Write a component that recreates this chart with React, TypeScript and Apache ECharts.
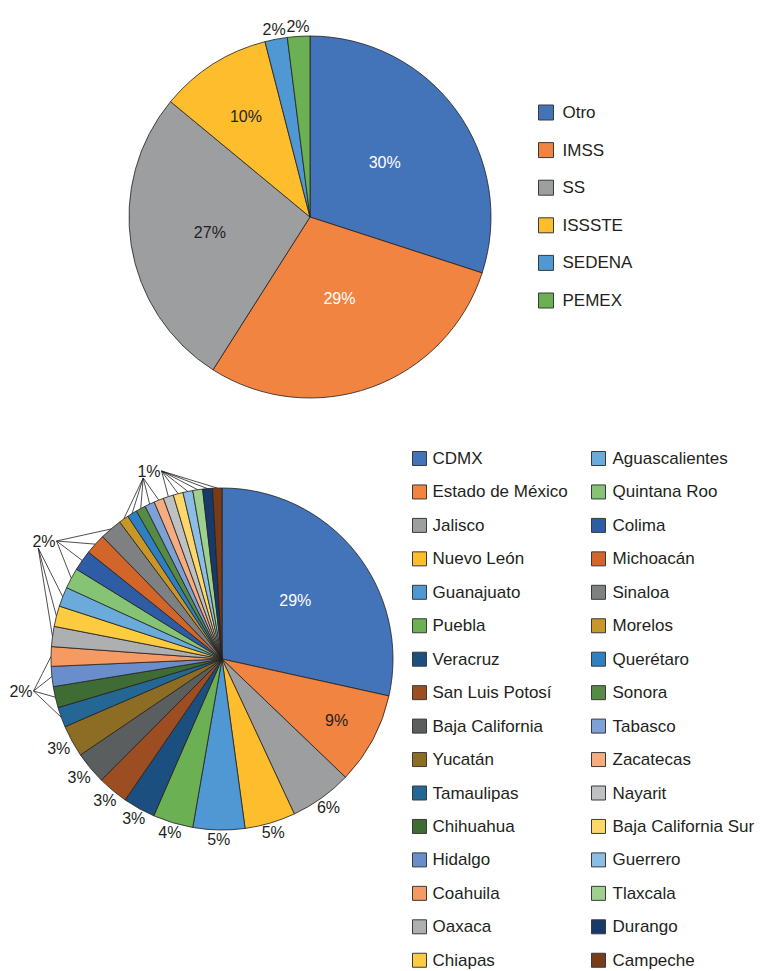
import React, { useEffect, useRef } from 'react';
import * as echarts from 'echarts';

// ---------- Data ----------
const institutionNames = ['Otro', 'IMSS', 'SS', 'ISSSTE', 'SEDENA', 'PEMEX'];
const institutionValues = [30, 29, 27, 10, 2, 2];

const stateNames = [
  'CDMX', 'Estado de México', 'Jalisco', 'Nuevo León', 'Guanajuato', 'Puebla',
  'Veracruz', 'San Luis Potosí', 'Baja California', 'Yucatán', 'Tamaulipas',
  'Chihuahua', 'Hidalgo', 'Coahuila', 'Oaxaca', 'Chiapas', 'Aguascalientes',
  'Quintana Roo', 'Colima', 'Michoacán', 'Sinaloa', 'Morelos', 'Querétaro',
  'Sonora', 'Tabasco', 'Zacatecas', 'Nayarit', 'Baja California Sur',
  'Guerrero', 'Tlaxcala', 'Durango', 'Campeche',
];
const stateValues = [
  28.5, 8.7, 5.9, 4.8, 4.9, 3.8,
  3.05, 2.9, 3.05, 3.0, 1.9,
  2.0, 1.9, 1.85, 1.9, 1.95, 1.85,
  1.95, 1.95, 1.95, 2.1, 0.93, 0.93,
  0.93, 0.93, 0.93, 0.97, 0.93,
  0.93, 0.93, 0.93, 0.88,
];

// ---------- Styles ----------
const institutionColors = ['#4373b9', '#f28441', '#9d9ea0', '#fdbd2c', '#4f98d3', '#6bb053'];
const stateColors = [
  '#4373b9', '#f28441', '#9d9ea0', '#fdbd2c', '#4f98d3', '#6bb053',
  '#1b4f7f', '#9c4e22', '#5a5e5f', '#8c6d23', '#246795',
  '#3f6c34', '#6a8ecb', '#f59a63', '#adafb1', '#fdcb3f', '#6aabdc',
  '#84c474', '#2e5da6', '#d2662a', '#7f8082', '#c99728', '#2f80c2',
  '#558b44', '#7da0d6', '#f5ac80', '#bfc0c2', '#fed76b',
  '#8cbee5', '#9ed090', '#183a6a', '#7a3c18',
];

const FONT = '"Liberation Sans", Arial, Helvetica, sans-serif';
const TEXT = '#231f20';
const EDGE = '#231f20';

const TOP_CENTER = [310, 217];
const TOP_R = 181;
const BOTTOM_CENTER = [222, 659];
const BOTTOM_R = 171;

// radial position (fraction of radius) of labels drawn inside slices
const insideLabelFraction: Record<string, number> = {
  Otro: 0.51, IMSS: 0.48, SS: 0.56, ISSSTE: 0.66,
  CDMX: 0.55, 'Estado de México': 0.76,
};
const whiteLabels = ['Otro', 'IMSS', 'CDMX'];

// grouped labels with converging leader lines
const leaderGroups = [
  { members: ['Tamaulipas', 'Chihuahua', 'Hidalgo', 'Coahuila'], at: [21, 691] },
  { members: ['Oaxaca', 'Chiapas', 'Aguascalientes', 'Quintana Roo', 'Colima', 'Michoacán', 'Sinaloa'], at: [44, 541] },
  {
    members: ['Morelos', 'Querétaro', 'Sonora', 'Tabasco', 'Zacatecas', 'Nayarit',
      'Baja California Sur', 'Guerrero', 'Tlaxcala', 'Durango', 'Campeche'],
    at: [149, 471],
  },
];

function makeLabelLayout(names: string[], values: number[], center: number[], r: number) {
  const total = values.reduce((a, b) => a + b, 0);
  const cum: number[] = [];
  let acc = 0;
  values.forEach((v) => { cum.push(acc); acc += v; });
  return (params: any) => {
    const i = params.dataIndex;
    const name = names[i];
    const a = ((cum[i] + values[i] / 2) / total) * Math.PI * 2;
    const dx = Math.sin(a);
    const dy = -Math.cos(a);
    const [cx, cy] = center;
    const w = params.labelRect.width;
    const h = params.labelRect.height;
    const frac = insideLabelFraction[name];
    if (frac != null) {
      return { x: cx + dx * r * frac, y: cy + dy * r * frac, align: 'center', verticalAlign: 'middle' };
    }
    const g = leaderGroups.find((gr) => gr.members.indexOf(name) >= 0);
    if (g) {
      const [gx, gy] = g.at;
      const p0 = [cx + dx * r, cy + dy * r];
      const anchors = [
        [gx + w / 2 + 1, gy],
        [gx - w / 4, gy + h / 2 - 1],
      ];
      let best = anchors[0];
      let bd = Infinity;
      anchors.forEach((an) => {
        const d = Math.hypot(an[0] - p0[0], an[1] - p0[1]);
        if (d < bd) { bd = d; best = an; }
      });
      const mid = [(p0[0] + best[0]) / 2, (p0[1] + best[1]) / 2];
      return {
        x: gx, y: gy, align: 'center', verticalAlign: 'middle',
        labelLinePoints: [p0, mid, best],
      };
    }
    const kx = Math.abs(dx) > 1e-6 ? (w / 2) / Math.abs(dx) : Infinity;
    const ky = Math.abs(dy) > 1e-6 ? (h / 2) / Math.abs(dy) : Infinity;
    const d = r + 2 + Math.min(kx, ky);
    return { x: cx + dx * d, y: cy + dy * d, align: 'center', verticalAlign: 'middle' };
  };
}

function buildData(names: string[], values: number[], colors: string[]) {
  return names.map((n, i) => {
    const g = leaderGroups.find((gr) => gr.members.indexOf(n) >= 0);
    const isDup = g ? g.members.indexOf(n) > 0 : false;
    return {
      name: n,
      value: values[i],
      itemStyle: { color: colors[i] },
      label: {
        color: isDup ? 'transparent' : whiteLabels.indexOf(n) >= 0 ? '#ffffff' : TEXT,
      },
      labelLine: { show: !!g },
    };
  });
}

const legendText = { fontFamily: FONT, fontSize: 17, color: TEXT, lineHeight: 17 };
const legendBase = {
  orient: 'vertical',
  icon: 'rect',
  padding: 0,
  height: 560,
  itemStyle: { borderColor: '#3a3a3a', borderWidth: 1 },
  selectedMode: false,
};

export default function App() {
  const ref = useRef<HTMLDivElement>(null);
  useEffect(() => {
    document.body.style.margin = '0';
    if (!ref.current) return;
    const chart = echarts.init(ref.current, null, { renderer: 'svg' });
    const seriesBase = {
      type: 'pie',
      startAngle: 90,
      clockwise: true,
      avoidLabelOverlap: false,
      itemStyle: { borderColor: EDGE, borderWidth: 0.8 },
      label: {
        show: true,
        position: 'outside',
        fontFamily: FONT,
        fontSize: 16,
        color: TEXT,
        overflow: 'none',
        formatter: (p: any) => `${Math.round(p.value)}%`,
      },
      labelLine: { show: false, length: 0, length2: 0, lineStyle: { color: EDGE, width: 0.8 } },
      emphasis: { disabled: true },
    };
    chart.setOption({
      animation: false,
      backgroundColor: '#ffffff',
      legend: [
        {
          ...legendBase,
          data: institutionNames, left: 538, top: 104,
          itemWidth: 15, itemHeight: 15, itemGap: 20.6,
          textStyle: { ...legendText, padding: [0, 0, 0, 4] },
        },
        {
          ...legendBase,
          data: stateNames.slice(0, 16), left: 412, top: 450,
          itemWidth: 14, itemHeight: 14, itemGap: 16.45,
          textStyle: { ...legendText, padding: [0, 0, 0, 1] },
        },
        {
          ...legendBase,
          data: stateNames.slice(16), left: 591, top: 450,
          itemWidth: 14, itemHeight: 14, itemGap: 16.45,
          textStyle: { ...legendText, padding: [0, 0, 0, 2] },
        },
      ],
      series: [
        {
          ...seriesBase,
          name: 'Institución',
          center: TOP_CENTER,
          radius: TOP_R,
          data: buildData(institutionNames, institutionValues, institutionColors),
          labelLayout: makeLabelLayout(institutionNames, institutionValues, TOP_CENTER, TOP_R),
        },
        {
          ...seriesBase,
          name: 'Entidad',
          center: BOTTOM_CENTER,
          radius: BOTTOM_R,
          data: buildData(stateNames, stateValues, stateColors),
          labelLayout: makeLabelLayout(stateNames, stateValues, BOTTOM_CENTER, BOTTOM_R),
        },
      ],
    });
    return () => chart.dispose();
  }, []);
  return <div ref={ref} style={{ width: 761, height: 971 }} />;
}
